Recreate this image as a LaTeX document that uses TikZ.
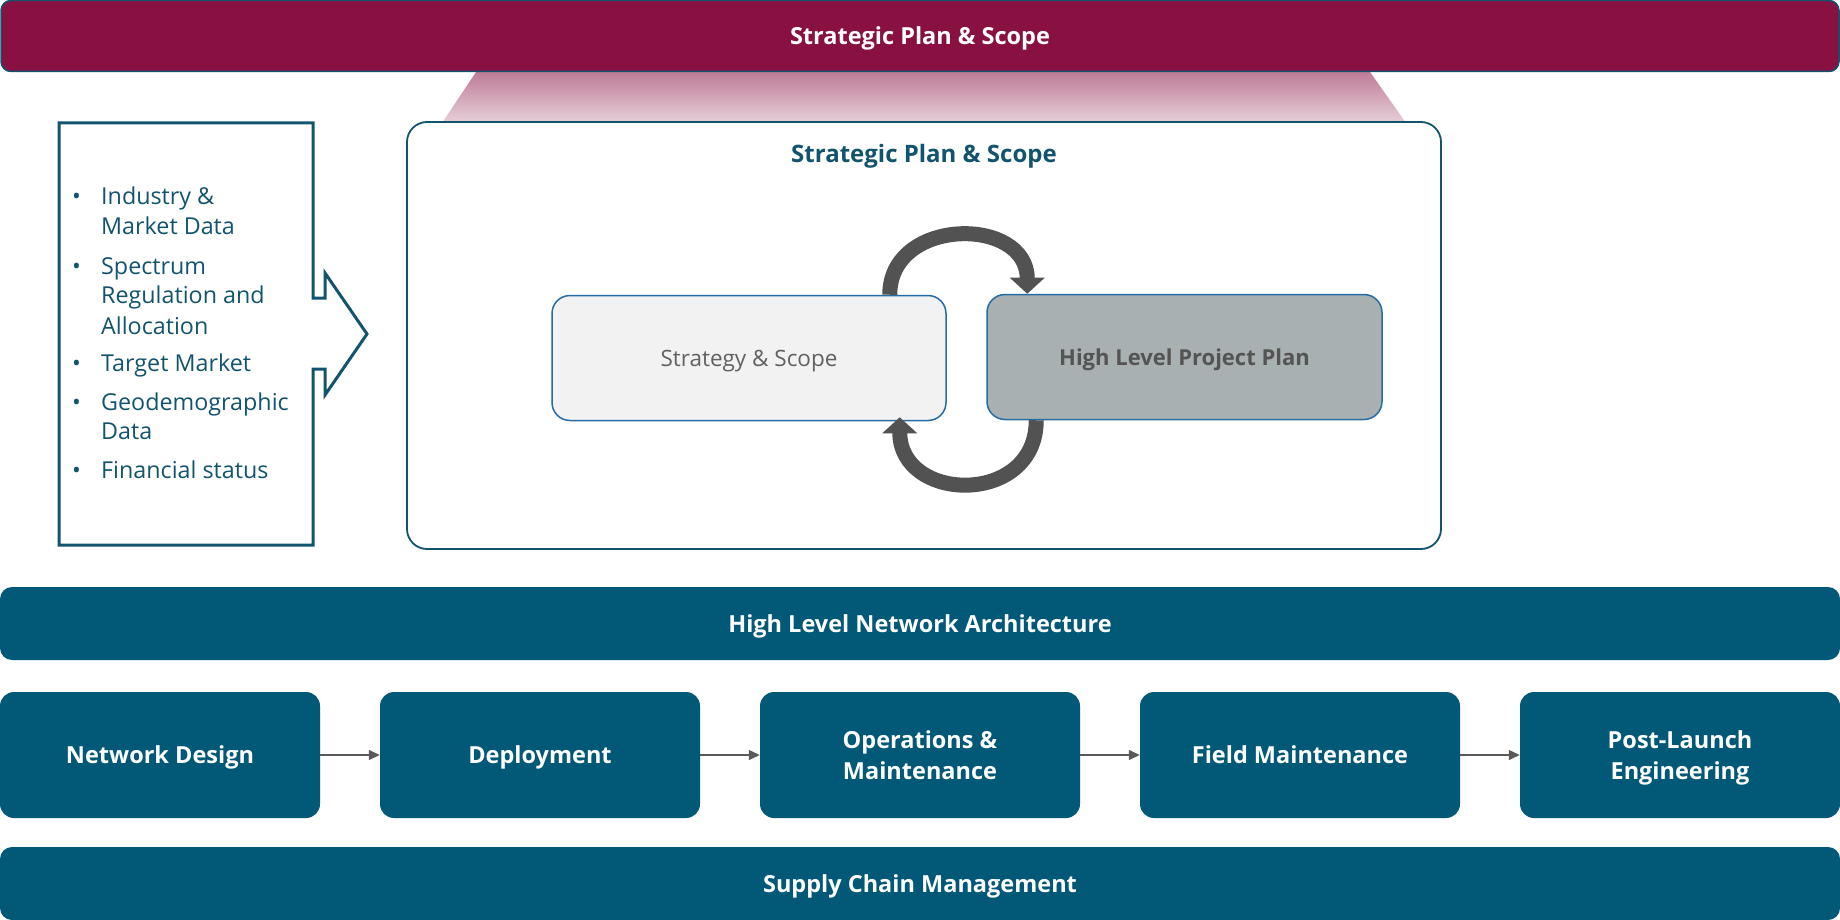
\documentclass[tikz,border=0pt]{standalone}
\usepackage{fontspec}
\setmainfont{Open Sans}
\usetikzlibrary{arrows.meta}

\definecolor{netblue}{RGB}{1,88,119}
\definecolor{planred}{RGB}{137,17,66}
\definecolor{inkteal}{RGB}{18,84,110}
\definecolor{edgeblue}{RGB}{38,108,165}
\definecolor{softgray}{RGB}{242,242,242}
\definecolor{slategray}{RGB}{168,176,177}
\definecolor{loopgray}{RGB}{82,82,82}
\definecolor{flowgray}{RGB}{90,90,90}

\newcommand*{\headfont}{\bfseries\fontsize{23.5}{30.5}\selectfont}
\newcommand*{\itemfont}{\fontsize{23.3}{29}\selectfont}

\tikzset{
  bar/.style={rounded corners=12pt, fill=netblue, text=white, inner sep=0pt,
    minimum width=1840pt, minimum height=73pt, font=\headfont, text depth=0pt},
  stage/.style={rounded corners=14pt, fill=netblue, text=white, inner sep=0pt,
    minimum width=320pt, minimum height=126pt, align=center, font=\headfont,
    text depth=0pt},
  card/.style={rounded corners=18pt, draw=edgeblue, line width=1.5pt, inner sep=0pt,
    minimum height=125pt, text depth=0pt},
  item/.style={anchor=west, inner sep=0pt, text=inkteal, font=\itemfont,
    text height=17pt, text depth=1pt},
  flow/.style={draw=flowgray, line width=1.3pt, -{Triangle[length=11pt,width=10pt]}},
  loop/.style={draw=loopgray, line width=15pt, -{Triangle[length=16pt,width=34pt]}},
}

\begin{document}
\begin{tikzpicture}[x=1pt,y=-1pt]
    \useasboundingbox (0,0) rectangle (1840,920);

    % strategic plan banner and its fan
    \shade[top color=planred!55, bottom color=planred!20]
        (476,72) -- (1370,72) -- (1406,123) -- (442,123) -- cycle;
    \node[bar, fill=planred, draw=inkteal, line width=1.5pt,
        minimum width=1838pt, minimum height=71pt, rounded corners=10pt]
        (banner) at (920,36) {Strategic Plan \& Scope};

    % inputs
    \draw[inkteal, line width=3pt] (59,123) -- (313,123) -- (313,298) -- (325,298)
        -- (325,273) -- (367,334) -- (325,395) -- (325,369) -- (313,369)
        -- (313,545) -- (59,545) -- cycle;

    \foreach \y/\txt [count=\i] in {197/Industry \&, 226.5/Market Data,
        266.4/Spectrum, 295.7/Regulation and, 326.2/Allocation,
        363.8/Target Market, 402.5/Geodemographic, 431.8/Data,
        470.6/Financial status} {
        \node[item] (line\i) at (101,\y) {\txt};
    }
    \foreach \y [count=\i] in {197,266.4,363.8,402.5,470.6} {
        \node[item] (dot\i) at (72,\y) {\textbullet};
    }

    % planning panel
    \node[draw=inkteal, line width=1.8pt, rounded corners=20pt, inner sep=0pt, fill=white,
        minimum width=1034pt, minimum height=427pt] (panel) at (924,335.5) {};
    \node[text=inkteal, font=\bfseries\fontsize{24}{30}\selectfont, text depth=0pt]
        (paneltitle) at (924,153) {Strategic Plan \& Scope};

    \node[card, fill=softgray, minimum width=394pt, text=black!62,
        font=\fontsize{22.5}{28}\selectfont] (strat) at (749,358) {Strategy \& Scope};
    \node[card, fill=slategray, minimum width=395pt, text=black!67,
        font=\bfseries\fontsize{22}{28}\selectfont] (hlpp) at (1184.5,357) {High Level Project Plan};

    \draw[loop] ([xshift=-57pt]strat.north east) .. controls +(0,-78) and +(0,-78)
        .. ([xshift=41pt]hlpp.north west);
    \draw[loop] ([xshift=50pt]hlpp.south west) .. controls +(0,86) and +(0,86)
        .. ([xshift=-47pt,yshift=4pt]strat.south east);

    % architecture and stages
    \node[bar] (arch) at (920,623.5) {High Level Network Architecture};

    \foreach \name/\x/\txt in {design/160/Network Design, deploy/540/Deployment,
        ops/920/{Operations \&\\Maintenance}, field/1300/Field Maintenance,
        post/1680/{Post-Launch\\Engineering}} {
        \node[stage] (\name) at (\x,755) {\txt};
    }
    \foreach \a/\b in {design/deploy, deploy/ops, ops/field, field/post} {
        \draw[flow] (\a) -- (\b);
    }

    \node[bar] (supply) at (920,883.5) {Supply Chain Management};

\end{tikzpicture}
\end{document}
